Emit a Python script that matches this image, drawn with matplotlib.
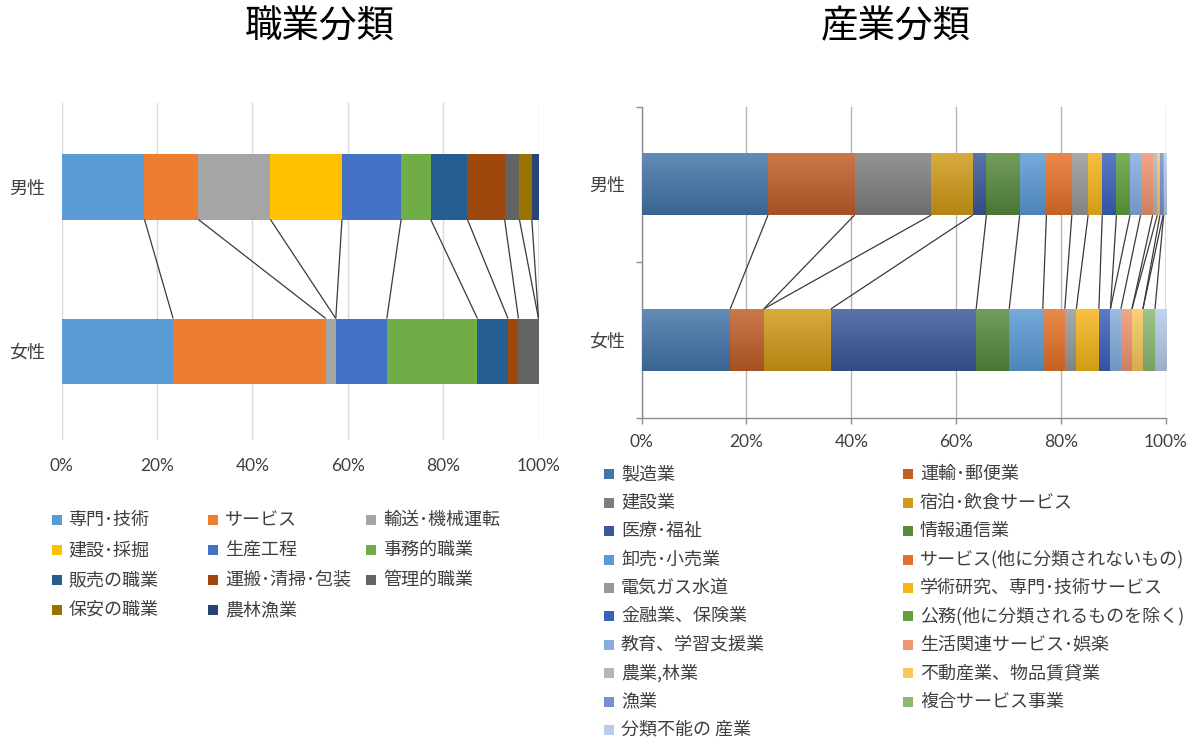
import numpy as np
import matplotlib
matplotlib.use("Agg")
import matplotlib.pyplot as plt
from matplotlib.patches import Rectangle
from matplotlib.colors import to_rgb
from matplotlib.ticker import FixedLocator, FuncFormatter

plt.rcParams['font.family'] = ['Noto Sans CJK JP', 'DejaVu Sans']

# ---------------- data ----------------
groups = ['男性', '女性']
pct_ticks = [0, 20, 40, 60, 80, 100]

occ_labels = ['専門･技術', 'サービス', '輸送･機械運転', '建設･採掘', '生産工程',
              '事務的職業', '販売の職業', '運搬･清掃･包装', '管理的職業',
              '保安の職業', '農林漁業']
occ_male = [17.4, 11.3, 15.1, 15.0, 12.4, 6.2, 7.7, 7.8, 3.1, 2.6, 1.4]
occ_female = [23.4, 32.0, 2.1, 0.0, 10.7, 19.0, 6.4, 2.2, 4.2, 0.0, 0.0]
occ_colors = ['#5b9bd5', '#ed7d31', '#a5a5a5', '#ffc000', '#4472c4', '#70ad47',
              '#255e91', '#9e480e', '#636363', '#997300', '#264478']

ind_labels = ['製造業', '運輸･郵便業', '建設業', '宿泊･飲食サービス', '医療･福祉',
              '情報通信業', '卸売･小売業', 'サービス(他に分類されないもの)',
              '電気ガス水道', '学術研究、専門･技術サービス', '金融業、保険業',
              '公務(他に分類されるものを除く)', '教育、学習支援業',
              '生活関連サービス･娯楽', '農業,林業', '不動産業、物品賃貸業',
              '漁業', '複合サービス事業', '分類不能の 産業']
ind_male = [24.1, 16.5, 14.6, 7.95, 2.6, 6.35, 5.1, 4.85, 3.1, 2.7, 2.7, 2.6,
            2.0, 2.3, 0.9, 0.5, 0.6, 0.1, 0.45]
ind_female = [16.9, 6.4, 0.0, 12.8, 27.7, 6.3, 6.4, 4.2, 2.2, 4.3, 2.2, 0.0,
              2.0, 2.1, 0.0, 2.1, 0.0, 2.3, 2.1]
ind_colors = ['#4475a8', '#c05e28', '#7f7f7f', '#d09b18', '#3a589b', '#578a3c',
              '#5b9bd5', '#e6712a', '#999999', '#f5b51a', '#3a62bb', '#62a03c',
              '#85ade0', '#ef9670', '#b5b5b5', '#f8c85c', '#7b8fd0', '#8aba72',
              '#b8cbea']

# ---------------- figure ----------------
W, H = 1192, 742
fig = plt.figure(figsize=(W / 100, H / 100), dpi=100)


def box(l, t, r, b):
    return [l / W, 1 - b / H, (r - l) / W, (b - t) / H]


TXT = '#404040'
pct_fmt = FuncFormatter(lambda v, p: f'{v:.0f}%')


def stacked(ax, male, female, colors, bar_h, line_color):
    ypos = [1, 0]
    lefts = [0.0, 0.0]
    patches = []
    for i, c in enumerate(colors):
        vals = [male[i], female[i]]
        bars = ax.barh(ypos, vals, left=lefts, height=bar_h, color=c,
                       edgecolor='none', zorder=3)
        patches.append((bars, c))
        lefts = [lefts[0] + vals[0], lefts[1] + vals[1]]
    # series lines joining the end of each segment
    cm = np.cumsum(male)
    cf = np.cumsum(female)
    for a, b in zip(cm, cf):
        ax.plot([a, b], [1 - bar_h / 2, bar_h / 2], color=line_color,
                lw=0.9, zorder=4, solid_capstyle='butt')
    return patches


# ---------- left: occupation ----------
axL = fig.add_axes(box(61.5, 103, 538.5, 440))
stacked(axL, occ_male, occ_female, occ_colors, 65 / 164, '#3a3a3a')
axL.set_xlim(0, 100)
axL.set_ylim(-(440 - 351) / 164, 1 + (187 - 103) / 164)
axL.xaxis.set_major_locator(FixedLocator(pct_ticks))
axL.xaxis.set_major_formatter(pct_fmt)
axL.set_yticks([1, 0])
axL.set_yticklabels(groups)
axL.grid(axis='x', color='#d9d9d9', lw=1.0, zorder=0)
for s in axL.spines.values():
    s.set_visible(False)
axL.tick_params(axis='x', length=0, pad=13, labelsize=12.5, labelcolor=TXT)
axL.tick_params(axis='y', length=0, pad=12, labelsize=13, labelcolor=TXT)
for lab in axL.get_xticklabels():
    lab.set_family(['Lato', 'DejaVu Sans'])
fig.text(319.5 / W, 1 - 27 / H, '職業分類', ha='center', va='center',
         fontsize=27, color='black')

# ---------- right: industry ----------
axR = fig.add_axes(box(641.6, 106.5, 1166, 417.5))
bh = 0.397
pr = stacked(axR, ind_male, ind_female, ind_colors, bh, '#3a3a3a')
axR.set_xlim(0, 100)
axR.set_ylim(-0.5, 1.5)


def shade(c, f):
    r = np.array(to_rgb(c))
    return r + (1 - r) * f if f > 0 else r * (1 + f)


# vertical gradient fill for each segment
for bars, c in pr:
    top, bot = shade(c, 0.16), shade(c, -0.14)
    t = np.linspace(0, 1, 64)[:, None]
    grad = (top[None, :] * (1 - t) + bot[None, :] * t)[:, None, :]
    for p in bars:
        x0, y0 = p.get_x(), p.get_y()
        w, h = p.get_width(), p.get_height()
        if w <= 0:
            continue
        im = axR.imshow(grad, extent=(x0, x0 + w, y0, y0 + h), origin='upper',
                        aspect='auto', interpolation='bilinear', zorder=3.5)
        im.set_clip_path(p)
axR.set_xlim(0, 100)
axR.set_ylim(-0.5, 1.5)

axR.xaxis.set_major_locator(FixedLocator(pct_ticks))
axR.xaxis.set_major_formatter(pct_fmt)
axR.set_yticks([1, 0])
axR.set_yticklabels(groups)
axR.yaxis.set_minor_locator(FixedLocator([-0.5, 0.5, 1.5]))
axR.grid(axis='x', color='#b4b4b4', lw=1.0, zorder=0)
for k in ['top', 'right']:
    axR.spines[k].set_visible(False)
for k in ['left', 'bottom']:
    axR.spines[k].set_color('#8c8c8c')
    axR.spines[k].set_linewidth(1.0)
axR.tick_params(axis='x', direction='out', length=4, width=1.0, color='#8c8c8c',
                pad=8, labelsize=12.5, labelcolor=TXT)
axR.tick_params(axis='y', which='major', length=0, pad=12, labelsize=13,
                labelcolor=TXT)
axR.tick_params(axis='y', which='minor', direction='out', length=4, width=1.0,
                color='#8c8c8c')
for lab in axR.get_xticklabels():
    lab.set_family(['Lato', 'DejaVu Sans'])
fig.text(896 / W, 1 - 27 / H, '産業分類', ha='center', va='center',
         fontsize=27, color='black')


# ---------- legends (row-wise order) ----------
def legend_grid(labels, colors, x_text, y0, dy, ncol):
    for i, (lab, c) in enumerate(zip(labels, colors)):
        r, k = divmod(i, ncol)
        y = y0 + r * dy
        x = x_text[k]
        fig.add_artist(Rectangle(((x - 17) / W, 1 - (y + 5) / H), 10 / W, 10 / H,
                                 transform=fig.transFigure, facecolor=c,
                                 edgecolor='none'))
        fig.text(x / W, 1 - y / H, lab, ha='left', va='center',
                 fontsize=13, color=TXT)


legend_grid(occ_labels, occ_colors, [68.5, 225, 383], 520, 30, 3)
legend_grid(ind_labels, ind_colors, [621, 920], 474.3, 28.4, 2)

fig.savefig('out.png', dpi=100, facecolor='white')
